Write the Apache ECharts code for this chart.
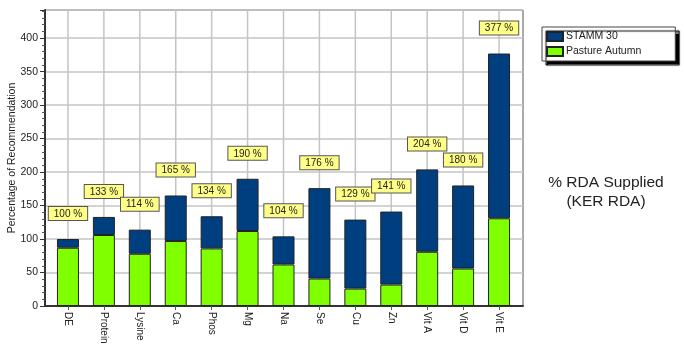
<!DOCTYPE html>
<html>
<head>
<meta charset="utf-8">
<script src="https://cdn.jsdelivr.net/npm/echarts@6/dist/echarts.min.js"></script>
<style>html,body{margin:0;padding:0;background:#fff;}#c{width:685px;height:347px;}</style>
</head>
<body>
<div id="c"></div>
<script>
const categories = ['DE','Protein','Lysine','Ca','Phos','Mg','Na','Se','Cu','Zn','Vit A','Vit D','Vit E'];
const pastureAutumn = [87,106,78,97,86,112,62,41,26,32,81,56,131];
const stamm30 = [13,27,36,68,48,78,42,135,103,109,123,124,246];
const totalLabels = [100,133,114,165,134,190,104,176,129,141,204,180,377];
const yTicks = [0,50,100,150,200,250,300,350,400];

const FONT = '"Liberation Sans", Arial, sans-serif';
const chart = echarts.init(document.getElementById('c'), null, {renderer:'canvas'});
chart.setOption({
  animation: false,
  backgroundColor: '#fff',
  textStyle: {fontFamily: FONT},
  title: {
    text: '% RDA Supplied\n(KER RDA)',
    left: 601, top: 168, textAlign: 'center',
    textStyle: {fontSize: 15.5, fontWeight: 'normal', color: '#222', lineHeight: 19, fontFamily: FONT}
  },
  legend: {
    orient: 'vertical', left: 542, top: 27,
    data: ['STAMM 30','Pasture Autumn'],
    itemWidth: 16, itemHeight: 9, itemGap: 4,
    padding: [4, 34, 4, 4],
    backgroundColor: '#fff', borderColor: '#444', borderWidth: 1,
    shadowColor: '#000', shadowBlur: 1, shadowOffsetX: 4, shadowOffsetY: 4,
    textStyle: {fontSize: 10.5, color: '#222', fontFamily: FONT, padding: [1,0,0,-2]},
    icon: 'rect'
  },
  grid: [
    {left: 50, top: 10, width: 467, height: 296, containLabel: false, outerBoundsMode: 'none'},
    {left: 45, top: 10, width: 478, height: 296, containLabel: false, outerBoundsMode: 'none',
     show: true, borderColor: '#555', borderWidth: 1, backgroundColor: 'transparent', z: 0}
  ],
  xAxis: [
    {type: 'category', gridIndex: 0, data: categories,
     axisLine: {show: false},
     axisTick: {show: true, alignWithLabel: true, length: 4, lineStyle: {color: '#555'}},
     axisLabel: {rotate: -90, fontSize: 10, color: '#222', margin: 6, fontFamily: FONT, interval: 0},
     splitLine: {show: false}},
    {type: 'value', gridIndex: 1, min: 0, max: 1,
     axisLine: {show: true, lineStyle: {color: '#333', width: 2}},
     axisTick: {show: false}, axisLabel: {show: false}, splitLine: {show: false}}
  ],
  yAxis: [
    {type: 'value', gridIndex: 0, min: 0, max: 442, interval: 50,
     axisLine: {show: false}, axisTick: {show: false}, axisLabel: {show: false}, splitLine: {show: false}},
    {type: 'value', gridIndex: 1, min: 0, max: 442, interval: 50,
     name: 'Percentage of Recommendation', nameLocation: 'middle', nameGap: 27, nameMoveOverlap: false,
     nameTextStyle: {fontSize: 10.5, color: '#222', fontFamily: FONT},
     axisLine: {show: true, lineStyle: {color: '#333', width: 2}},
     axisTick: {show: true, length: 5, lineStyle: {color: '#333'}},
     minorTick: {show: true, splitNumber: 5, length: 3, lineStyle: {color: '#555'}},
     axisLabel: {fontSize: 10.5, color: '#222', margin: 7, fontFamily: FONT, showMaxLabel: false,
                 formatter: v => (yTicks.indexOf(v) >= 0 ? String(v) : '')},
     splitLine: {show: true, lineStyle: {color: '#c4c4c4', width: 1.5}}}
  ],
  series: [
    {name: 'gridV', type: 'custom', xAxisIndex: 0, yAxisIndex: 0, z: 1, silent: true,
     data: categories.map(c => [c, 0]),
     renderItem: function (params, api) {
       const p = api.coord([api.value(0), 0]);
       const top = params.coordSys.y;
       return {type: 'line', shape: {x1: p[0], y1: p[1], x2: p[0], y2: top},
               style: {stroke: '#c4c4c4', lineWidth: 1.5}};
     }},
    {name: 'Pasture Autumn', type: 'bar', stack: 'rda', xAxisIndex: 0, yAxisIndex: 0,
     data: pastureAutumn, barWidth: 22, z: 2,
     itemStyle: {color: '#80ff00', borderColor: '#222', borderWidth: 1}},
    {name: 'STAMM 30', type: 'bar', stack: 'rda', xAxisIndex: 0, yAxisIndex: 0,
     data: stamm30, barWidth: 22, z: 2,
     itemStyle: {color: '#003f7f', borderColor: '#222', borderWidth: 1},
     label: {show: true, position: 'top', distance: 19,
       formatter: p => totalLabels[p.dataIndex] + ' %',
       fontSize: 10, color: '#222', fontFamily: FONT,
       backgroundColor: '#ffff88', borderColor: '#555', borderWidth: 1, padding: [2, 5, 1, 5]}
    }
  ]
});
</script>
</body>
</html>
